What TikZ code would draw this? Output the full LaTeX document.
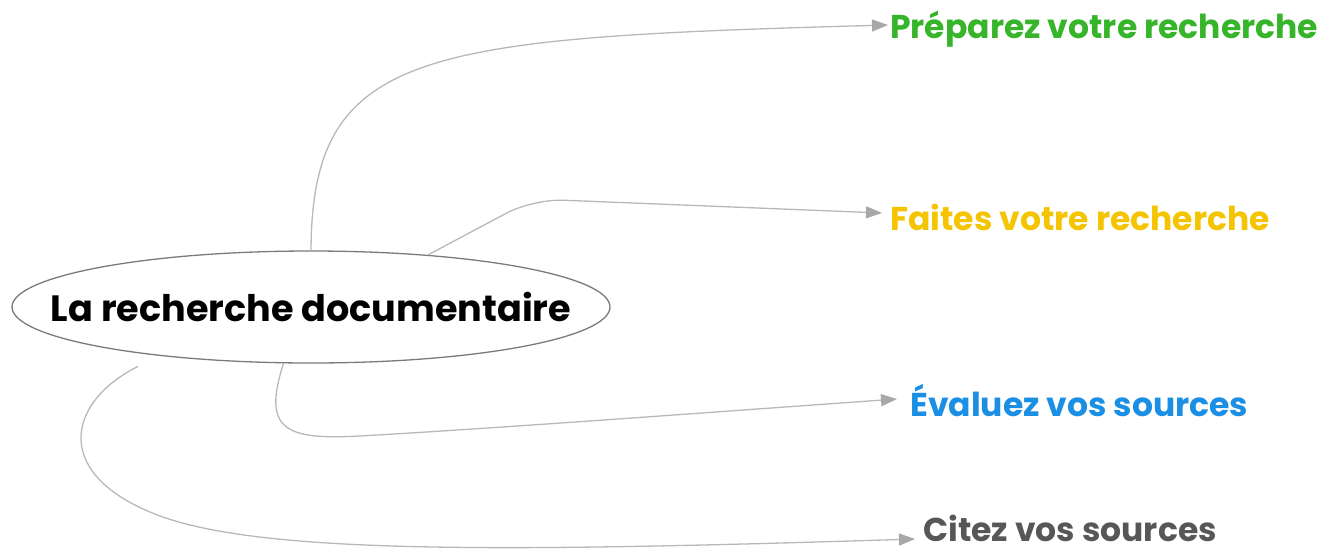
\documentclass[tikz,border=0pt]{standalone}
\usepackage{fontspec}
\setmainfont{Poppins}
\usetikzlibrary{arrows.meta,shapes.geometric,calc}
\definecolor{linegray}{HTML}{B8B8B8}
\definecolor{tipgray}{HTML}{A8A8A8}
\definecolor{ellgray}{HTML}{7A7A7A}
\definecolor{cgreen}{HTML}{36B42A}
\definecolor{cyellow}{HTML}{F5C400}
\definecolor{cblue}{HTML}{1A8FE3}
\definecolor{cgray}{HTML}{575757}
\tikzset{
  rootnode/.style={ellipse, draw=ellgray, line width=1.3pt, minimum width=598pt, minimum height=112pt, inner sep=0pt, font=\bfseries\fontsize{36.6}{42}\selectfont},
  leaf/.style={anchor=base west, inner sep=0pt, font=\fontsize{33}{38}\selectfont\bfseries},
  link/.style={draw=linegray, line width=1.3pt, -{Triangle[length=16pt,width=12pt,fill=tipgray,color=tipgray]}},
}
\begin{document}
\begin{tikzpicture}[x=1pt,y=-1pt]
\useasboundingbox (0,0) rectangle (1337,552);
\node[rootnode] (root) at (311,307) {\makebox[0pt]{La recherche documentaire}};
\node[leaf, text=cgreen] (prep) at (890,38) {Préparez votre recherche};
\node[leaf, text=cyellow] (fait) at (890,230) {Faites votre recherche};
\node[leaf, text=cblue] (eval) at (910,416.5) {Évaluez vos sources};
\node[leaf, text=cgray] (cite) at (923,541) {Citez vos sources};
% start points on the ellipse
\coordinate (s1) at (root.north);
\coordinate (s2) at (root.24.5);
\coordinate (s3) at (root.244);
\coordinate (s4) at ([yshift=-13pt]root.195);
% end points beside labels
\coordinate (e1) at ([xshift=-2pt,yshift=13pt]prep.base west);
\coordinate (e2) at ([xshift=-8pt,yshift=17pt]fait.base west);
\coordinate (e3) at ([xshift=-13pt,yshift=17.5pt]eval.base west);
\coordinate (e4) at ([xshift=-8pt,yshift=2pt]cite.base west);
\draw[link] (s1) .. controls (312,50) and (420,38) .. (e1);
\draw[link, rounded corners=30pt] (s2) -- (533,199) -- (e2);
\draw[link] (s3) .. controls (262,430) and (285,440) .. (360,436) .. controls (500,428) and (700,413) .. (e3);
\draw[link] (s4) .. controls (70,400) and (50,470) .. (150,512) .. controls (250,555) and (500,552) .. (e4);
\end{tikzpicture}
\end{document}
